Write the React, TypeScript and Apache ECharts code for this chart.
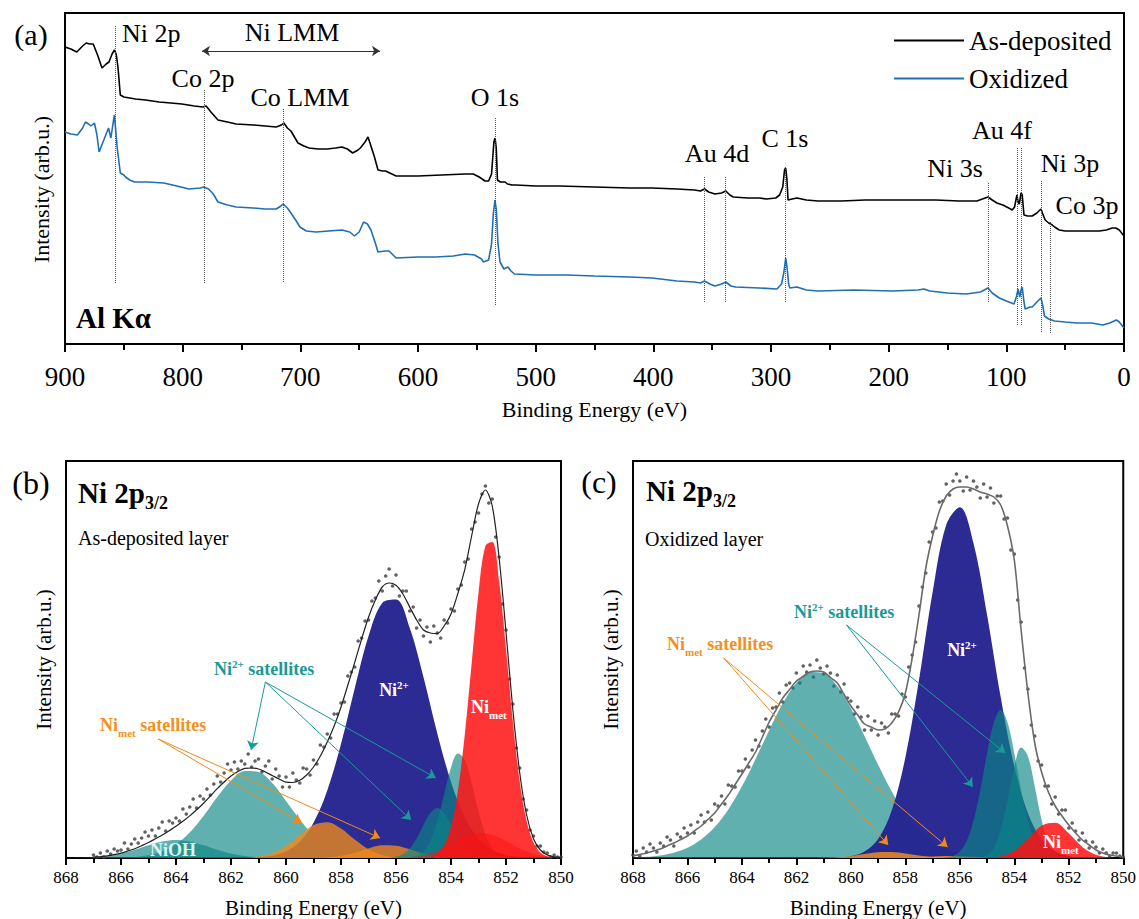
import React, { useEffect, useRef } from 'react';
import * as echarts from 'echarts';

const FONT = 'Liberation Serif';
const TEAL = '#0a8686';
const TEAL_TEXT = '#1a9a96';
const NAVY = '#242490';
const ORANGE = '#f08a1a';
const ORANGE_TEXT = '#f39020';
const RED = '#ff1010';
const BLUE = '#1f6fb2';

// ---------------- (a) survey spectra: [binding energy, intensity] ----------------
const surveyAsDeposited: [number, number][] = [
  [900, 297], [895, 295], [890, 292], [885, 298], [882, 301], [879, 300], [876, 300], [872, 288], [868.6, 276], [865, 280],
  [862.6, 282], [860, 290], [858, 294], [856.5, 290], [855, 277], [853, 249], [850, 247], [845, 246], [840, 245], [831.6, 244],
  [820, 242], [810, 241], [800.7, 240], [790, 238], [783, 237], [780, 238], [776, 232], [770, 224], [762, 222], [754.5, 220],
  [740, 219], [730, 218], [720.5, 217], [716, 219], [714, 221], [711, 216], [708, 213], [705, 207], [702, 201], [697, 198],
  [692.6, 196], [685, 195], [677, 195], [670, 196], [664.6, 197], [660, 195], [655.5, 191], [651, 194], [649, 196], [645, 202],
  [642.5, 207], [640, 198], [637, 187], [634, 174], [630, 173], [627.6, 173], [624, 171], [618.6, 168], [610, 168], [600, 168],
  [580, 169], [560, 170], [553, 170], [548, 167], [543, 163], [540, 163], [537.5, 170], [535.5, 202], [534.5, 206], [533.5, 196],
  [532.5, 164], [530, 162], [526, 162], [524, 160], [520, 159], [516.6, 159], [500, 158], [480, 158], [450, 157], [420, 156],
  [401, 156], [380, 155], [365, 154], [360, 153], [356.5, 155], [353, 152], [347.6, 150], [342, 151], [338.4, 153], [335, 149],
  [332, 147], [320, 146], [310, 146], [303.8, 145], [296, 146], [292.7, 149], [290, 157], [288.5, 174], [287.5, 176], [286.5, 165],
  [285.5, 144], [282, 145], [278, 146], [270, 144], [260, 143], [240, 143], [220, 144], [200, 144], [180, 144], [160, 144],
  [140, 143], [125, 143], [118, 146], [115.6, 147], [112, 144], [108, 141], [103, 139], [98, 136], [95, 134], [93, 137],
  [91, 149], [90, 142], [89, 140], [87.5, 151], [86.5, 149], [85, 129], [82, 128], [78, 128], [74, 131], [71.5, 134],
  [70.5, 135], [69, 130], [67, 124], [64, 121], [61, 119], [59, 117], [55, 114], [50, 113], [40, 113], [30, 113],
  [21, 113], [15, 114], [10, 116], [7, 116], [4, 114], [2, 111], [0, 108],
];

const surveyOxidized: [number, number][] = [
  [900, 212], [895, 210], [889.5, 209], [885, 216], [882.6, 222], [880, 220], [878, 218], [875, 221], [873, 210], [871, 192],
  [869, 198], [867, 204], [865, 210], [863, 216], [861, 206], [859.5, 218], [858, 229], [857, 215], [855.7, 197], [853, 171],
  [850, 169], [848.6, 167], [845, 164], [841, 162], [830, 162], [816, 161], [805, 158], [794.6, 155], [785, 156], [782, 157],
  [778, 155], [774, 150], [770, 142], [762, 139], [754.5, 137], [740, 136], [730, 135], [720.5, 135], [716.5, 138], [714.7, 140],
  [711, 136], [708, 131], [704, 124], [700.3, 117], [695, 113], [686.6, 112], [676, 113], [664.6, 114], [658, 112], [654, 108],
  [650, 112], [646.2, 122], [643, 120], [640, 114], [636, 100], [634, 92], [628, 93], [624.6, 93], [618.6, 86], [600, 87],
  [584.7, 87], [570, 88], [559.6, 90], [552, 89], [546, 85], [544.3, 82], [540, 84], [537.5, 100], [536, 130], [534.6, 144],
  [533.5, 135], [532, 100], [530.3, 82], [527, 75], [523.5, 77], [521, 73], [518, 70], [500, 69], [473.4, 69], [450, 68],
  [420, 67], [401, 66], [380, 63], [365, 62], [360, 61], [356.5, 63], [352, 60], [347.6, 58], [342, 60], [338.4, 62],
  [334, 58], [330, 57], [310, 56], [295, 55], [291, 60], [289, 72], [287.5, 86], [286.5, 78], [285, 60], [284, 56],
  [278, 57], [270, 54], [260, 53], [230, 54], [197, 53], [175, 54], [170, 55], [165, 53], [150, 51], [134, 50],
  [122, 52], [115.6, 56], [112, 51], [106, 46], [100, 43], [93.5, 40], [91.5, 47], [90, 55], [89, 49], [88.6, 47],
  [87.5, 54], [86.5, 57], [85, 42], [84, 35], [80, 37], [78, 37], [74, 42], [71.5, 45], [70.5, 46], [69, 38],
  [67.6, 28], [64, 25], [59, 23], [50, 22], [40, 21], [27.5, 21], [18, 19], [12, 21], [6.5, 24], [4, 22],
  [2, 19], [0, 16],
];

// dotted peak markers: energy, lower and upper intensity
const surveyPeakLines = [
  { peak: 'Ni 2p', energy: 857.5, low: 61, high: 319 },
  { peak: 'Co 2p', energy: 781.5, low: 61, high: 254 },
  { peak: 'Co LMM', energy: 714.8, low: 62, high: 236 },
  { peak: 'O 1s', energy: 534, low: 39, high: 227 },
  { peak: 'Au 4d', energy: 356.5, low: 42, high: 167 },
  { peak: 'Au 4d', energy: 338.5, low: 42, high: 167 },
  { peak: 'C 1s', energy: 288, low: 42, high: 177 },
  { peak: 'Ni 3s', energy: 115.6, low: 42, high: 162 },
  { peak: 'Au 4f', energy: 90.5, low: 19, high: 196 },
  { peak: 'Au 4f', energy: 87, low: 19, high: 196 },
  { peak: 'Ni 3p', energy: 70.7, low: 12, high: 164 },
  { peak: 'Co 3p', energy: 63, low: 11, high: 122 },
];
const niLmmRange = [783.6, 632.3];
const niLmmLevel = 293;

// ---------------- (b) Ni 2p3/2 as-deposited ----------------
const rawStep = 0.125;
const bRawStart = 867;
const bRaw = [
  3, 1, 5, 1, 7, 4, 9, 7,
  8, 15, 9, 14, 19, 15, 20, 26,
  22, 28, 22, 30, 36, 27, 37, 35,
  40, 37, 49, 44, 51, 59, 50, 62,
  59, 69, 63, 74, 82, 76, 85, 94,
  88, 96, 89, 97, 94, 104, 91, 97,
  99, 86, 92, 97, 79, 89, 82, 71,
  81, 71, 85, 78, 75, 90, 89, 83,
  98, 94, 113, 111, 124, 120, 144, 144,
  155, 156, 182, 186, 191, 217, 220, 237,
  238, 257, 260, 277, 267, 282, 289, 272,
  283, 262, 267, 267, 247, 251, 230, 238,
  222, 231, 216, 232, 225, 220, 238, 235,
  249, 247, 269, 273, 296, 299, 329, 336,
  345, 364, 372, 355, 359, 321, 301, 254,
  228, 179, 154, 110, 90, 59, 48, 28,
  22, 12, 12, 6, 5, 1, 3, 1,
  1,
];
const envStep = 0.25;
const bEnvStart = 867;
const bEnvelope = [
  0.8, 1.4, 2.1, 3.3,
  4.8, 7, 9.3, 12.3,
  15.5, 19.2, 23, 27.3,
  31.7, 36.8, 42.1, 48.3,
  54.8, 62, 69.3, 76,
  82, 86.5, 89.6, 90,
  89, 86, 82.5, 79,
  75.8, 75.5, 77.7, 83,
  91, 102, 116, 132,
  151, 173, 195.6, 219,
  240.8, 258, 271, 275,
  272.7, 264, 251, 238,
  228, 225, 224.4, 232,
  244, 264.6, 288.4, 322,
  354, 368, 352, 300,
  226, 148, 85, 43,
  19.2, 8, 3, 1.2,
  0.5,
];
const bSatBroad: [number, number][] = [[867, 0], [866.5, 0.1], [866, 0.3], [865.5, 1], [865, 2.7], [864.5, 6.5], [864, 13.7], [863.5, 25.6], [863, 42], [862.5, 61], [862, 77.5], [861.5, 87], [861, 86], [860.5, 75], [860, 57], [859.5, 38.5], [859, 22.7], [858.5, 11.9], [858, 5.5], [857.5, 2.2], [857, 0.8], [856.5, 0.2], [856, 0]];
const bNiOH: [number, number][] = [[868, 0], [867.5, 0.3], [867, 0.8], [866.5, 2], [866, 4.5], [865.5, 8.3], [865, 12.8], [864.5, 16.5], [864, 18], [863.5, 16.5], [863, 12.8], [862.5, 8.3], [862, 4.5], [861.5, 2], [861, 0.8], [860.5, 0.3], [860, 0]];
const bNi2: [number, number][] = [[861.5, 0], [861, 0.7], [860.5, 2.3], [860, 6.6], [859.5, 16.2], [859, 35.3], [858.5, 67.6], [858, 114], [857.5, 169.7], [857, 221.7], [856.5, 255], [856, 258.4], [855.5, 230], [855, 180.8], [854.5, 124.8], [854, 76], [853.5, 40.7], [853, 19.1], [852.5, 8], [852, 2.9], [851.5, 0.9], [851, 0]];
const bNiMetSat1: [number, number][] = [[861.5, 0], [861, 1.5], [860.5, 4.9], [860, 12.2], [859.5, 23], [859, 33], [858.5, 35.8], [858, 29.5], [857.5, 18.4], [857, 8.7], [856.5, 3.1], [856, 0.8], [855.5, 0]];
const bNiMetSat2: [number, number][] = [[859, 0], [858.5, 0.7], [858, 2.2], [857.5, 5.3], [857, 9.6], [856.5, 12.7], [856, 12.3], [855.5, 8.8], [855, 4.6], [854.5, 1.8], [854, 0.5], [853.5, 0]];
const bNi2SatA: [number, number][] = [[856.25, 0], [856, 1.2], [855.75, 3.8], [855.5, 9.6], [855.25, 19.7], [855, 33], [854.75, 45], [854.5, 50], [854.25, 45], [854, 33], [853.75, 19.7], [853.5, 9.6], [853.25, 3.8], [853, 1.2], [852.75, 0]];
const bNi2SatB: [number, number][] = [[855.5, 0], [855.25, 2], [855, 6.4], [854.75, 17], [854.5, 36.5], [854.25, 63.7], [854, 90.5], [853.75, 104.6], [853.5, 98.3], [853.25, 75], [853, 46.7], [852.75, 23.6], [852.5, 9.7], [852.25, 3.3], [852, 0.9], [851.75, 0]];
const bNiMet: [number, number][] = [[854.75, 0], [854.5, 4.5], [854.25, 12.8], [854, 31.4], [853.75, 67], [853.5, 123], [853.25, 194], [853, 265], [852.75, 312], [852.5, 316], [852.25, 277], [852, 209], [851.75, 136], [851.5, 76], [851.25, 37], [851, 15.5], [850.75, 5.6], [850.5, 1.7], [850.25, 0]];
const bNiMetTail: [number, number][] = [[855.5, 0], [855, 2.8], [854.5, 6.9], [854, 13.7], [853.5, 20.8], [853, 24.9], [852.5, 23], [852, 16.7], [851.5, 9.4], [851, 4.2], [850.5, 1.4], [850, 0.3]];

// ---------------- (c) Ni 2p3/2 oxidized ----------------
const cRawStart = 868;
const cRaw = [
  3, 7, 2, 10, 6, 14, 10, 6,
  15, 12, 21, 18, 12, 24, 21, 30,
  25, 33, 25, 36, 43, 36, 46, 38,
  54, 52, 62, 54, 73, 72, 71, 87,
  87, 99, 91, 108, 118, 112, 127, 139,
  131, 150, 151, 165, 156, 173, 175, 170,
  185, 175, 192, 186, 193, 181, 198, 190,
  184, 192, 185, 172, 183, 166, 174, 160,
  157, 144, 151, 141, 128, 142, 128, 137,
  123, 135, 131, 125, 144, 144, 142, 164,
  161, 191, 203, 216, 252, 271, 285, 316,
  326, 330, 356, 357, 374, 363, 377, 384,
  377, 367, 381, 368, 377, 371, 360, 374,
  361, 370, 355, 362, 362, 339, 340, 308,
  304, 258, 236, 190, 169, 133, 122, 97,
  93, 72, 72, 54, 61, 44, 48, 48,
  30, 35, 27, 18, 25, 17, 10, 16,
  11, 5, 9, 5, 2, 5, 5, 2,
  1,
];
const cEnvStart = 868;
const cEnvelope = [
  2, 3.5, 5, 7,
  9, 12, 15, 18.5,
  22, 27, 32, 38.5,
  45, 54, 63, 73.5,
  84, 95, 106, 121,
  136, 148, 160, 168.5,
  177, 181.5, 186, 187,
  186, 180.5, 175, 163.5,
  152, 143, 134, 131,
  128, 129, 135, 146,
  165, 200, 243, 290,
  322, 347, 362, 369,
  371, 371, 369, 366,
  364, 361, 353, 332,
  298, 228, 165, 115,
  86, 66, 52, 42,
  33, 25, 18, 13,
  8, 5, 3, 2,
  1,
];
const cSatBroad: [number, number][] = [[868, 0.5], [867.5, 1.2], [867, 2.6], [866.5, 5.3], [866, 10.2], [865.5, 18.4], [865, 30.9], [864.5, 48.6], [864, 71.7], [863.5, 98.9], [863, 127.8], [862.5, 154.7], [862, 175.3], [861.5, 186], [861, 184.8], [860.5, 171.9], [860, 149.7], [859.5, 122], [859, 93.2], [858.5, 66.6], [858, 44.6], [857.5, 28], [857, 16.4], [856.5, 9], [856, 4.6], [855.5, 2.2], [855, 1], [854.5, 0]];
const cNi2: [number, number][] = [[861, 0], [860.5, 0.4], [860, 1.8], [859.5, 6.4], [859, 19], [858.5, 47.6], [858, 100.5], [857.5, 178], [857, 265.7], [856.5, 333], [856, 350.8], [855.5, 315], [855, 243], [854.5, 161], [854, 91.6], [853.5, 44.8], [853, 18.7], [852.5, 6.8], [852, 2.1], [851.5, 0.6], [851, 0]];
const cNiMetSat1: [number, number][] = [[861.5, 0], [861, 0.2], [860.5, 0.8], [860, 2.1], [859.5, 4], [859, 5.7], [858.5, 5.9], [858, 4.4], [857.5, 2.5], [857, 1], [856.5, 0.3], [856, 0]];
const cNiMetSat2: [number, number][] = [[858.5, 0], [858, 0.4], [857.5, 0.9], [857, 1.6], [856.5, 2], [856, 1.8], [855.5, 1.2], [855, 0.6], [854.5, 0.2], [854, 0]];
const cNi2SatA: [number, number][] = [[856.75, 0], [856.5, 0.6], [856.25, 2.1], [856, 6.5], [855.75, 16.9], [855.5, 36.9], [855.25, 67.8], [855, 104.6], [854.75, 135.7], [854.5, 148], [854.25, 135.7], [854, 104.6], [853.75, 67.8], [853.5, 36.9], [853.25, 16.9], [853, 6.5], [852.75, 2.1], [852.5, 0.6], [852.25, 0]];
const cNi2SatB: [number, number][] = [[855.25, 0], [855, 2.8], [854.75, 10.2], [854.5, 27.7], [854.25, 57.6], [854, 91.3], [853.75, 110.4], [853.5, 101.8], [853.25, 71.6], [853, 38.3], [852.75, 15.7], [852.5, 4.9], [852.25, 1.2], [852, 0.2], [851.75, 0]];
const cNiMet: [number, number][] = [[855.5, 0], [855, 0.3], [854.5, 1.7], [854, 7.1], [853.5, 18.9], [853, 32.3], [852.5, 35.3], [852, 24.7], [851.5, 11.1], [851, 3.2], [850.5, 0.6], [850, 0]];

// annotation arrows (energy, intensity): start -> ends
const bTealArrows = { from: [860.75, 176], to: [[861.27, 108], [854.55, 80], [855.45, 38]] };
const bOrangeArrows = { from: [864.65, 119], to: [[859.42, 35], [856.58, 20]] };
const cTealArrows = { from: [860.16, 233], to: [[854.33, 105], [855.52, 71]] };
const cOrangeArrows = { from: [864.67, 200], to: [[858.63, 13], [856.45, 11]] };

const seq = (start: number, step: number, vals: number[]) =>
  vals.map((v, i) => [+(start - i * step).toFixed(4), v]);

function areaSeries(name: string, data: any[], idx: number, color: string, opacity: number, extra: any = {}) {
  return {
    name, type: 'line', xAxisIndex: idx, yAxisIndex: idx, data,
    smooth: 0.35, showSymbol: false, symbol: 'none', silent: true,
    lineStyle: { width: 0 }, areaStyle: { color, opacity }, ...extra,
  };
}

function arrowLines(spec: any, color: string) {
  return {
    silent: true, symbol: ['none', 'arrow'], symbolSize: 9, animation: false,
    label: { show: false },
    lineStyle: { color, width: 1, type: 'solid' },
    data: spec.to.map((t: number[]) => [{ coord: spec.from }, { coord: t }]),
  };
}

function serifRich(size: number) {
  return { f: { fontFamily: FONT, fontSize: size, color: '#000', fill: '#000' } };
}

function xAxisOf(gi: number, min: number, max: number, interval: number, fs: number, margin: number, gap: number, nameFs: number, tickLen: number, minorLen: number) {
  return {
    gridIndex: gi, type: 'value', min, max, interval, inverse: true,
    axisLine: { show: true, onZero: false, lineStyle: { color: '#000', width: 2 } },
    axisTick: { show: true, length: tickLen, lineStyle: { color: '#000', width: 2 } },
    minorTick: { show: true, splitNumber: 2, length: minorLen, lineStyle: { color: '#000', width: 2 } },
    splitLine: { show: false }, minorSplitLine: { show: false },
    axisLabel: {
      fontSize: fs, color: '#000', fontFamily: FONT, margin, showMinLabel: true, showMaxLabel: true,
      formatter: '{f|{value}}', rich: serifRich(fs),
    },
    name: '{f|Binding Energy (eV)}', nameLocation: 'middle', nameGap: gap,
    nameTextStyle: { fontSize: nameFs, color: '#000', fontFamily: FONT, rich: serifRich(nameFs) },
  };
}

function yAxisOf(gi: number, max: number, fs: number, gap: number, padding: number[]) {
  return {
    gridIndex: gi, type: 'value', min: 0, max,
    axisLine: { show: false }, axisTick: { show: false }, axisLabel: { show: false }, splitLine: { show: false },
    name: '{f|Intensity (arb.u.)}', nameLocation: 'middle', nameRotate: 90, nameGap: gap,
    nameTextStyle: { fontSize: fs, color: '#000', fontFamily: FONT, padding, rich: serifRich(fs) },
  };
}

function text(x: number, y: number, t: string, size: number, opts: any = {}) {
  const align = opts.align || 'left';
  return {
    type: 'text', x, y, silent: true, z: 100,
    style: {
      text: t, fontSize: size, fontFamily: FONT, fontWeight: opts.weight || 'normal',
      fill: opts.color || '#000', textAlign: align, align, textVerticalAlign: 'middle', verticalAlign: 'middle',
      rich: opts.rich,
    },
  };
}

function supText(x: number, y: number, base: string, sup: string, rest: string, size: number, color: string, align = 'left') {
  const tok = { fontSize: size, fontWeight: 'bold', fontFamily: FONT, fill: color, color, lineHeight: size + 4 };
  return text(x, y, `{m|${base}}{u|${sup}}{m|${rest}}`, size, {
    align, color, weight: 'bold',
    rich: { m: tok, u: { fontSize: Math.round(size * 0.6), fontWeight: 'bold', fontFamily: FONT, fill: color, color, verticalAlign: 'top' } },
  });
}

function subText(x: number, y: number, base: string, sub: string, rest: string, size: number, color: string, align = 'left') {
  const tok = { fontSize: size, fontWeight: 'bold', fontFamily: FONT, fill: color, color, lineHeight: Math.round(size * 1.5) };
  return text(x, y, `{m|${base}}{d|${sub}}{m|${rest}}`, size, {
    align, color, weight: 'bold',
    rich: { m: tok, d: { fontSize: Math.round(size * 0.62), fontWeight: 'bold', fontFamily: FONT, fill: color, color, verticalAlign: 'bottom' } },
  });
}

function buildOption() {
  const grids = [
    { left: 65, top: 13, width: 1059, height: 331, show: true, borderColor: '#000', borderWidth: 2, backgroundColor: 'transparent' },
    { left: 66, top: 461, width: 495, height: 397, show: true, borderColor: '#000', borderWidth: 2, backgroundColor: 'transparent' },
    { left: 633, top: 461, width: 494, height: 397, show: true, borderColor: '#000', borderWidth: 2, backgroundColor: 'transparent' },
  ];

  const surveyLabels = [
    text(122, 33, 'Ni 2p', 26),
    text(292, 32, 'Ni LMM', 26, { align: 'center' }),
    text(203, 78, 'Co 2p', 26, { align: 'center' }),
    text(300, 97, 'Co LMM', 26, { align: 'center' }),
    text(495, 97, 'O 1s', 26, { align: 'center' }),
    text(717, 153, 'Au 4d', 26, { align: 'center' }),
    text(785, 138, 'C 1s', 26, { align: 'center' }),
    text(1002, 130, 'Au 4f', 26, { align: 'center' }),
    text(955, 168, 'Ni 3s', 26, { align: 'center' }),
    text(1070, 163, 'Ni 3p', 26, { align: 'center' }),
    text(1087, 205, 'Co 3p', 26, { align: 'center' }),
    text(76, 318, 'Al Kα', 29, { weight: 'bold' }),
    text(31, 34, '(a)', 30, { align: 'center' }),
  ];

  const titleRich = {
    m: { fontSize: 29, fontWeight: 'bold', fontFamily: FONT, fill: '#000', lineHeight: 38 },
    d: { fontSize: 18, fontWeight: 'bold', fontFamily: FONT, fill: '#000', verticalAlign: 'bottom' },
  };

  const panelLabels = [
    text(31, 483, '(b)', 32, { align: 'center' }),
    text(599, 482, '(c)', 32, { align: 'center' }),
    text(78, 493, '{m|Ni 2p}{d|3/2}', 29, { weight: 'bold', rich: titleRich }),
    text(646, 491, '{m|Ni 2p}{d|3/2}', 29, { weight: 'bold', rich: titleRich }),
    text(78, 538, 'As-deposited layer', 20),
    text(645, 539, 'Oxidized layer', 20),
    supText(214, 669, 'Ni', '2+', ' satellites', 18, TEAL_TEXT),
    subText(100, 725, 'Ni', 'met', ' satellites', 18, ORANGE_TEXT),
    supText(394, 690, 'Ni', '2+', '', 18, '#ffffff', 'center'),
    subText(471, 707, 'Ni', 'met', '', 18, '#ffffff'),
    text(173, 850, 'NiOH', 18, { align: 'center', weight: 'bold', color: '#dcf3f1' }),
    supText(794, 612, 'Ni', '2+', ' satellites', 18, TEAL_TEXT),
    subText(667, 644, 'Ni', 'met', ' satellites', 18, ORANGE_TEXT),
    supText(962, 650, 'Ni', '2+', '', 18, '#ffffff', 'center'),
    subText(1043, 842, 'Ni', 'met', '', 18, '#ffffff'),
  ];

  const series: any[] = [
    {
      name: 'As-deposited', type: 'line', xAxisIndex: 0, yAxisIndex: 0, data: surveyAsDeposited,
      showSymbol: false, symbol: 'none', lineStyle: { color: '#000', width: 1.6 }, itemStyle: { color: '#000' },
      markLine: {
        silent: true, symbol: ['none', 'none'], animation: false, label: { show: false },
        lineStyle: { type: 'dotted', color: '#555', width: 1 },
        data: surveyPeakLines.map((p) => [{ coord: [p.energy, p.low] }, { coord: [p.energy, p.high] }]),
      },
    },
    {
      name: 'Oxidized', type: 'line', xAxisIndex: 0, yAxisIndex: 0, data: surveyOxidized,
      showSymbol: false, symbol: 'none', lineStyle: { color: BLUE, width: 1.6 }, itemStyle: { color: BLUE },
      markLine: {
        silent: true, symbol: ['arrow', 'arrow'], symbolSize: 8, animation: false, label: { show: false },
        lineStyle: { type: 'solid', color: '#333', width: 1.2 },
        data: [[{ coord: [niLmmRange[0], niLmmLevel] }, { coord: [niLmmRange[1], niLmmLevel] }]],
      },
    },
    // (b)
    areaSeries('b Ni2+ sat broad', bSatBroad, 1, TEAL, 0.65, { markLine: arrowLines(bTealArrows, TEAL_TEXT) }),
    areaSeries('b NiOH', bNiOH, 1, TEAL, 0.65),
    areaSeries('b Ni2+', bNi2, 1, NAVY, 0.97),
    areaSeries('b Nimet sat 1', bNiMetSat1, 1, ORANGE, 0.78, { markLine: arrowLines(bOrangeArrows, ORANGE) }),
    areaSeries('b Nimet sat 2', bNiMetSat2, 1, ORANGE, 0.78),
    areaSeries('b Ni2+ sat A', bNi2SatA, 1, TEAL, 0.65),
    areaSeries('b Ni2+ sat B', bNi2SatB, 1, TEAL, 0.65),
    areaSeries('b Nimet', bNiMet, 1, RED, 0.85),
    areaSeries('b Nimet tail', bNiMetTail, 1, RED, 0.5),
    {
      name: 'b envelope', type: 'line', xAxisIndex: 1, yAxisIndex: 1, data: seq(bEnvStart, envStep, bEnvelope),
      smooth: 0.3, showSymbol: false, symbol: 'none', silent: true, lineStyle: { color: '#222', width: 1.2 },
    },
    {
      name: 'b data', type: 'scatter', xAxisIndex: 1, yAxisIndex: 1, data: seq(bRawStart, rawStep, bRaw),
      symbolSize: 3.6, silent: true, itemStyle: { color: '#3c3c3c' },
    },
    // (c)
    areaSeries('c Ni2+ sat broad', cSatBroad, 2, TEAL, 0.65, { markLine: arrowLines(cTealArrows, TEAL_TEXT) }),
    areaSeries('c Ni2+', cNi2, 2, NAVY, 0.97),
    areaSeries('c Nimet sat 1', cNiMetSat1, 2, ORANGE, 0.85, { markLine: arrowLines(cOrangeArrows, ORANGE) }),
    areaSeries('c Nimet sat 2', cNiMetSat2, 2, ORANGE, 0.85),
    areaSeries('c Ni2+ sat A', cNi2SatA, 2, TEAL, 0.65),
    areaSeries('c Ni2+ sat B', cNi2SatB, 2, TEAL, 0.65),
    areaSeries('c Nimet', cNiMet, 2, RED, 0.85),
    {
      name: 'c envelope', type: 'line', xAxisIndex: 2, yAxisIndex: 2, data: seq(cEnvStart, envStep, cEnvelope),
      smooth: 0.3, showSymbol: false, symbol: 'none', silent: true, lineStyle: { color: '#6a6a6a', width: 1.6 },
    },
    {
      name: 'c data', type: 'scatter', xAxisIndex: 2, yAxisIndex: 2, data: seq(cRawStart, rawStep, cRaw),
      symbolSize: 3.6, silent: true, itemStyle: { color: '#3c3c3c' },
    },
  ];

  return {
    animation: false,
    backgroundColor: '#fff',
    grid: grids,
    legend: {
      orient: 'vertical', left: 889, top: 22, itemWidth: 70, itemHeight: 2, itemGap: 11, icon: 'rect',
      data: ['As-deposited', 'Oxidized'],
      textStyle: { fontSize: 27, fontFamily: FONT, color: '#000' },
    },
    xAxis: [
      xAxisOf(0, 0, 900, 100, 27, 19, 54, 22, 8, 6),
      xAxisOf(1, 850, 868, 2, 17, 11, 39, 21, 7, 5),
      xAxisOf(2, 850, 868, 2, 17, 11, 39, 21, 7, 5),
    ],
    yAxis: [
      yAxisOf(0, 331, 22, 13, [0, 22, 0, 0]),
      yAxisOf(1, 397, 21, 12, [0, 0, 0, 0]),
      yAxisOf(2, 397, 21, 12, [0, 0, 0, 0]),
    ],
    graphic: { elements: [...surveyLabels, ...panelLabels] },
    series,
  };
}

export default function App() {
  const ref = useRef<HTMLDivElement>(null);
  useEffect(() => {
    const chart = echarts.init(ref.current!, null, { renderer: 'svg' });
    chart.setOption(buildOption() as any);
    return () => chart.dispose();
  }, []);
  return <div ref={ref} style={{ position: 'absolute', left: 0, top: 0, width: 1139, height: 919, background: '#fff' }} />;
}
